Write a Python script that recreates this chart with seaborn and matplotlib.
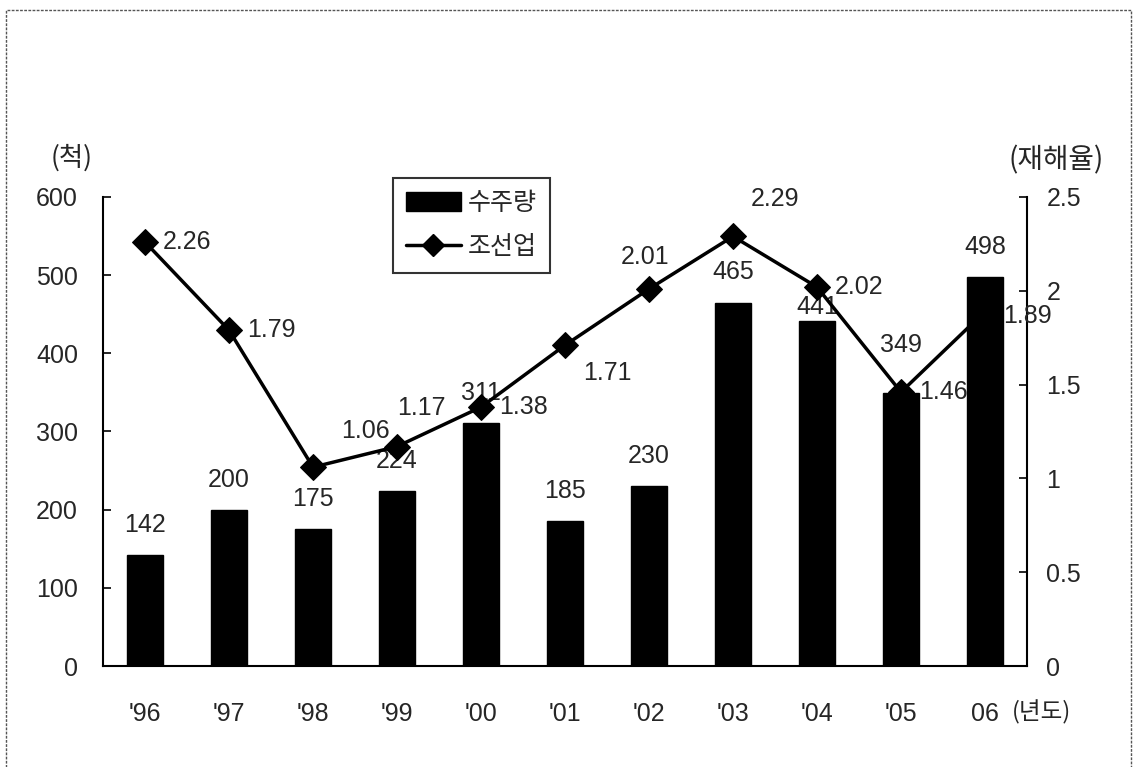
import numpy as np
import pandas as pd
import matplotlib
matplotlib.use("Agg")
import matplotlib.pyplot as plt
from matplotlib.patches import Rectangle, Patch
from matplotlib.lines import Line2D
import seaborn as sns

# Yearly shipbuilding orders (ships) and accident rate (%)
years = ["'96", "'97", "'98", "'99", "'00", "'01", "'02", "'03", "'04", "'05", "06"]
orders = [142, 200, 175, 224, 311, 185, 230, 465, 441, 349, 498]
accident_rate = [2.26, 1.79, 1.06, 1.17, 1.38, 1.71, 2.01, 2.29, 2.02, 1.46, 1.89]

left_ticks = [0, 100, 200, 300, 400, 500, 600]
right_ticks = [0, 0.5, 1, 1.5, 2, 2.5]
right_tick_labels = ["0", "0.5", "1", "1.5", "2", "2.5"]

sns.set_theme(style="white")
plt.rcParams["font.family"] = ["Liberation Sans", "Noto Sans CJK KR"]
KR = ["Noto Sans CJK KR", "DejaVu Sans"]
NUM_SIZE = 18

df = pd.DataFrame({"year": years, "orders": orders, "rate": accident_rate})
pos = np.arange(len(years))

fig = plt.figure(figsize=(11.37, 7.67), dpi=100)
fig.patch.set_facecolor("white")
ax = fig.add_axes([103 / 1137, 1 - 666 / 767, (1027 - 103) / 1137, (666 - 197) / 767])

sns.barplot(data=df, x="year", y="orders", color="black", width=0.42,
            edgecolor="black", saturation=1, ax=ax)
ax.set_xlim(-0.5, len(years) - 0.5)
ax.set_ylim(0, 600)
ax.set_yticks(left_ticks)
ax.set_yticklabels([str(t) for t in left_ticks], fontsize=NUM_SIZE)
ax.set_xticks(pos)
ax.set_xticklabels(years, fontsize=NUM_SIZE)
ax.set_xticks(pos[:-1] + 0.5, minor=True)
ax.tick_params(axis="x", which="major", length=0, pad=26)
ax.tick_params(axis="x", which="minor", direction="in", length=7, width=1.2, color="black")
ax.tick_params(axis="y", direction="in", length=6, width=1.2, color="black", pad=18, left=True)
ax.set_xlabel("")
ax.set_ylabel("")
for side in ["left", "bottom"]:
    ax.spines[side].set_color("black")
    ax.spines[side].set_linewidth(1.5)
ax.spines["top"].set_visible(False)
ax.spines["right"].set_visible(False)

# Order counts above bars
bar_offsets = {8: -11, 9: 13}
for i, v in enumerate(orders):
    ax.annotate(str(v), (i, v), xytext=(0, 13 + bar_offsets.get(i, 0)),
                textcoords="offset points", ha="center", va="bottom", fontsize=NUM_SIZE)

ax2 = ax.twinx()
sns.lineplot(x=pos, y=accident_rate, ax=ax2, color="black", linewidth=2.5,
             marker="D", markersize=13, markeredgecolor="black", markerfacecolor="black")
ax2.set_ylim(0, 2.5)
ax2.set_yticks(right_ticks)
ax2.set_yticklabels(right_tick_labels, fontsize=NUM_SIZE)
ax2.tick_params(axis="y", direction="in", length=6, width=1.2, color="black", pad=14, right=True)
ax2.set_xlim(-0.5, len(years) - 0.5)
for side in ["left", "top", "bottom"]:
    ax2.spines[side].set_visible(False)
ax2.spines["right"].set_color("black")
ax2.spines["right"].set_linewidth(1.5)
ax2.grid(False)
ax.grid(False)

# Accident-rate labels next to markers (offsets in points)
rate_offsets = {
    0: (13, 0),
    1: (13, 0),
    2: (20, 26),
    3: (0, 28),
    4: (13, 0),
    5: (13, -20),
    6: (-20, 23),
    7: (13, 27),
    8: (13, 0),
    9: (13, 0),
    10: (13, -3),
}
for i, r in enumerate(accident_rate):
    dx, dy = rate_offsets[i]
    ax2.annotate(f"{r:.2f}", (i, r), xytext=(dx, dy), textcoords="offset points",
                 ha="left", va="center", fontsize=NUM_SIZE)

# Axis unit captions
fig.text(72 / 1137, 1 - 158 / 767, "(척)", family=KR, fontsize=19, ha="center", va="center")
fig.text(1056 / 1137, 1 - 160 / 767, "(재해율)", family=KR, fontsize=20, ha="center", va="center")
fig.text(1042 / 1137, 1 - 712 / 767, "(년도)", family=KR, fontsize=17, ha="center", va="center")

handles = [Patch(facecolor="black", edgecolor="black"),
           Line2D([0], [0], color="black", linewidth=2.5, marker="D", markersize=11)]
leg = fig.legend(handles, ["수주량", "조선업"], loc="upper left",
                 bbox_to_anchor=(393 / 1137, 1 - 178 / 767), borderaxespad=0, frameon=True,
                 prop={"family": KR, "size": 18}, handlelength=2.2, handleheight=0.8,
                 handletextpad=0.3, borderpad=0.5, labelspacing=0.7, fancybox=False)
leg.get_frame().set_edgecolor("black")
leg.get_frame().set_linewidth(1.5)

# Dashed frame around the figure
fig.patches.append(Rectangle((6 / 1137, -0.05), (1131 - 6) / 1137, 1.05 - 10 / 767,
                             transform=fig.transFigure, fill=False, edgecolor="#555555",
                             linewidth=1.0, linestyle=(0, (2, 1))))

fig.savefig("out.png", dpi=100, facecolor="white")
